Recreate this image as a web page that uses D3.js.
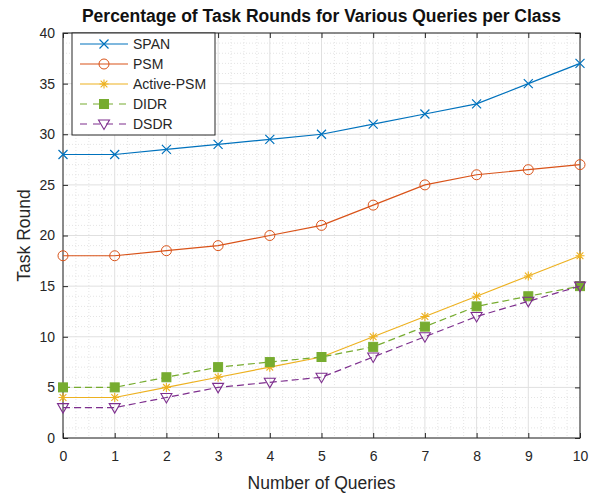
<!DOCTYPE html>
<html><head><meta charset="utf-8">
<script src="https://cdn.jsdelivr.net/npm/d3@7/dist/d3.min.js"></script>
<style>body{margin:0;background:#fff}svg{display:block}text{font-family:"Liberation Sans",Arial,sans-serif}</style>
</head><body><svg id="c" width="594" height="493"></svg>
<script>
const queries = [0,1,2,3,4,5,6,7,8,9,10];
const seriesNames = ["SPAN","PSM","Active-PSM","DIDR","DSDR"];
const span = [28,28,28.5,29,29.5,30,31,32,33,35,37];
const psm = [18,18,18.5,19,20,21,23,25,26,26.5,27];
const activePsm = [4,4,5,6,7,8,10,12,14,16,18];
const didr = [5,5,6,7,7.5,8,9,11,13,14,15];
const dsdr = [3,3,4,5,5.5,6,8,10,12,13.5,15];
const xTicks = [0,1,2,3,4,5,6,7,8,9,10];
const yTicks = [0,5,10,15,20,25,30,35,40];

const colors = ["#0072BD","#D95319","#EDB120","#77AC30","#7E2F8E"];
const markers = ["x","o","*","s","v"];
const dashes = [null,null,null,"7,4","7,4"];
const data = [span, psm, activePsm, didr, dsdr];

const svg = d3.select("#c");
const L=63, R=580, T=33, B=438;
const x = d3.scaleLinear().domain([0,10]).range([L,R]);
const y = d3.scaleLinear().domain([0,40]).range([B,T]);

// minor grid
const g = svg.append("g");
const xMinor = d3.range(0,10.001,0.25).filter(v=>Math.abs(v-Math.round(v))>1e-6);
const yMinor = d3.range(0,40.001,1).filter(v=>v%5!==0);
g.selectAll(".xm").data(xMinor).enter().append("line")
 .attr("x1",d=>x(d)).attr("x2",d=>x(d)).attr("y1",T).attr("y2",B)
 .attr("stroke","#e4e4e4").attr("stroke-width",1).attr("stroke-dasharray","1,2");
g.selectAll(".ym").data(yMinor).enter().append("line")
 .attr("y1",d=>y(d)).attr("y2",d=>y(d)).attr("x1",L).attr("x2",R)
 .attr("stroke","#e4e4e4").attr("stroke-width",1).attr("stroke-dasharray","1,2");
// major grid
g.selectAll(".xg").data(xTicks).enter().append("line")
 .attr("x1",d=>x(d)).attr("x2",d=>x(d)).attr("y1",T).attr("y2",B)
 .attr("stroke","#e0e0e0").attr("stroke-width",1);
g.selectAll(".yg").data(yTicks).enter().append("line")
 .attr("y1",d=>y(d)).attr("y2",d=>y(d)).attr("x1",L).attr("x2",R)
 .attr("stroke","#e0e0e0").attr("stroke-width",1);

// axes
const ax = d3.axisBottom(x).tickValues(xTicks).tickSize(-5).tickPadding(13);
const ay = d3.axisLeft(y).tickValues(yTicks).tickSize(-5).tickPadding(8);
const axt = d3.axisTop(x).tickValues(xTicks).tickSize(-5).tickFormat("");
const ayr = d3.axisRight(y).tickValues(yTicks).tickSize(-5).tickFormat("");
function style(sel){sel.selectAll("path,line").attr("stroke","#262626");sel.selectAll("text").attr("fill","#262626").style("font-size","14px");sel.select(".domain").remove();}
svg.append("g").attr("transform",`translate(0,${B})`).call(ax).call(style);
svg.append("g").attr("transform",`translate(${L},0)`).call(ay).call(style);
svg.append("g").attr("transform",`translate(0,${T})`).call(axt).call(style);
svg.append("g").attr("transform",`translate(${R},0)`).call(ayr).call(style);
svg.append("rect").attr("x",L).attr("y",T).attr("width",R-L).attr("height",B-T)
 .attr("fill","none").attr("stroke","#262626").attr("stroke-width",1);

function drawMarker(sel, type, color, cx, cy){
  const s=4.5;
  if(type==="x"){
    sel.append("path").attr("d",`M${cx-s},${cy-s}L${cx+s},${cy+s}M${cx-s},${cy+s}L${cx+s},${cy-s}`).attr("stroke",color).attr("stroke-width",1.2).attr("fill","none");
  } else if(type==="o"){
    sel.append("circle").attr("cx",cx).attr("cy",cy).attr("r",5).attr("stroke",color).attr("stroke-width",1).attr("fill","none");
  } else if(type==="*"){
    sel.append("path").attr("d",`M${cx-s},${cy}L${cx+s},${cy}M${cx},${cy-s}L${cx},${cy+s}M${cx-s*0.75},${cy-s*0.75}L${cx+s*0.75},${cy+s*0.75}M${cx-s*0.75},${cy+s*0.75}L${cx+s*0.75},${cy-s*0.75}`).attr("stroke",color).attr("stroke-width",1.1).attr("fill","none");
  } else if(type==="s"){
    sel.append("rect").attr("x",cx-4.5).attr("y",cy-4.5).attr("width",9).attr("height",9).attr("fill",color).attr("stroke",color);
  } else if(type==="v"){
    sel.append("path").attr("d",`M${cx-5.5},${cy-4}L${cx+5.5},${cy-4}L${cx},${cy+5.5}Z`).attr("stroke",color).attr("stroke-width",1.1).attr("fill","none");
  }
}

const line = d3.line().x((d,i)=>x(queries[i])).y(d=>y(d));
data.forEach((vals,k)=>{
  const gg = svg.append("g");
  gg.append("path").attr("d",line(vals)).attr("fill","none").attr("stroke",colors[k]).attr("stroke-width",1.2)
    .attr("stroke-dasharray",dashes[k]);
  vals.forEach((v,i)=>drawMarker(gg,markers[k],colors[k],x(queries[i]),y(v)));
});

// legend
const lg = svg.append("g");
lg.append("rect").attr("x",72).attr("y",T).attr("width",143).attr("height",102)
 .attr("fill","#fff").attr("stroke","#262626").attr("stroke-width",1);
seriesNames.forEach((n,k)=>{
  const ly = 44 + k*20;
  lg.append("line").attr("x1",80).attr("x2",128).attr("y1",ly).attr("y2",ly)
    .attr("stroke",colors[k]).attr("stroke-width",1.2).attr("stroke-dasharray",dashes[k]?"7,6":null);
  drawMarker(lg,markers[k],colors[k],104,ly);
  lg.append("text").attr("x",133).attr("y",ly+5).text(n).attr("fill","#262626").style("font-size","14px");
});

// titles
svg.append("text").attr("x",(L+R)/2).attr("y",22).attr("text-anchor","middle")
 .style("font-size","17.5px").style("font-weight","bold").attr("fill","#111").text("Percentage of Task Rounds for Various Queries per Class");
svg.append("text").attr("x",(L+R)/2).attr("y",489).attr("text-anchor","middle")
 .style("font-size","17.5px").attr("fill","#262626").text("Number of Queries");
svg.append("text").attr("transform",`translate(30,${(T+B)/2}) rotate(-90)`).attr("text-anchor","middle")
 .style("font-size","17.5px").attr("fill","#262626").text("Task Round");
</script></body></html>
